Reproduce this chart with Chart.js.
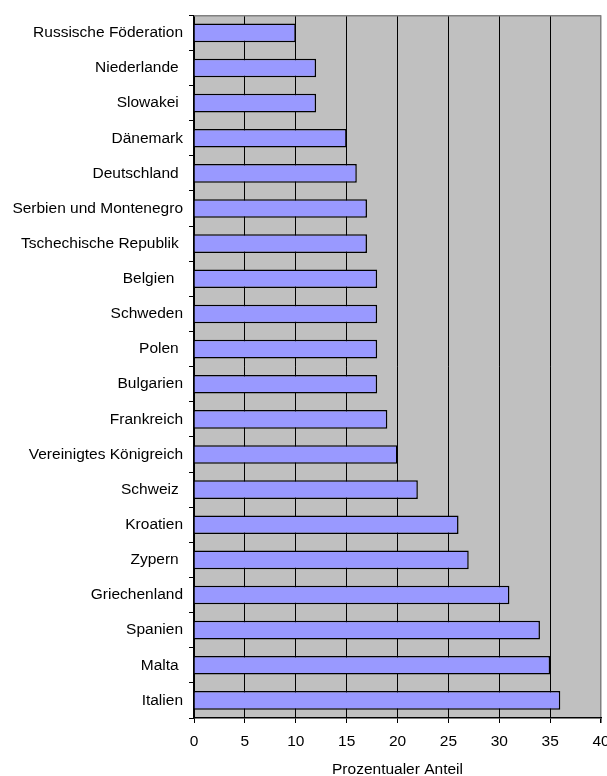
<!DOCTYPE html>
<html>
<head>
<meta charset="utf-8">
<script src="https://cdn.jsdelivr.net/npm/chart.js@4/dist/chart.umd.min.js"></script>
<style>
  html, body { margin: 0; padding: 0; background: #fff; }
  #wrap { width: 607px; height: 776px; }
</style>
</head>
<body>
<div id="wrap"><canvas id="chart"></canvas></div>
<script>
// labels keep the trailing spaces seen in the original
const countries = [
    "Russische Föderation", "Niederlande ", "Slowakei ", "Dänemark", "Deutschland ",
    "Serbien und Montenegro", "Tschechische Republik ", "Belgien  ", "Schweden", "Polen ",
    "Bulgarien", "Frankreich", "Vereinigtes Königreich", "Schweiz ", "Kroatien",
    "Zypern ", "Griechenland", "Spanien", "Malta ", "Italien"
];
const shares = [10, 12, 12, 15, 16, 17, 17, 18, 18, 18, 18, 19, 20, 22, 26, 27, 31, 34, 35, 36];
const xTicks = [0, 5, 10, 15, 20, 25, 30, 35, 40];
const xTitle = "Prozentualer Anteil";

const FONT = { family: "'Liberation Sans', Arial, sans-serif", size: 15.5 };

// gray plot area with gray top frame
const plotBackground = {
    id: "plotBackground",
    beforeDraw(chart) {
        const a = chart.chartArea, c = chart.ctx;
        c.save();
        c.fillStyle = "#C0C0C0";
        c.fillRect(a.left, a.top, a.right - a.left, a.bottom - a.top);
        c.restore();
    },
    afterDraw(chart) {
        const a = chart.chartArea, c = chart.ctx;
        c.save();
        c.strokeStyle = "#808080";
        c.lineWidth = 1.5;
        c.beginPath();
        c.moveTo(a.left, a.top + 0.5);
        c.lineTo(a.right, a.top + 0.5);
        c.stroke();
        c.restore();
    }
};

new Chart(document.getElementById("chart"), {
    type: "bar",
    data: {
        labels: countries,
        datasets: [{
            data: shares,
            backgroundColor: "#9999FF",
            borderColor: "#000000",
            borderWidth: 1.5,
            barPercentage: 0.53,
            categoryPercentage: 1
        }]
    },
    options: {
        indexAxis: "y",
        responsive: true,
        maintainAspectRatio: false,
        animation: false,
        layout: { padding: { top: 14, right: 6, left: 0, bottom: 0 } },
        plugins: {
            legend: { display: false },
            tooltip: { enabled: false }
        },
        scales: {
            x: {
                min: 0,
                max: 40,
                afterBuildTicks: s => { s.ticks = xTicks.map(v => ({ value: v })); },
                afterFit: s => { s.paddingLeft = 0; s.paddingRight = 0; s.height = 58; },
                grid: {
                    color: c => (c.tick && c.tick.value === 40) ? "#808080" : "#000000",
                    lineWidth: c => (c.tick && c.tick.value === 40) ? 1.5 : 1,
                    tickColor: "#000000",
                    tickLength: 5,
                    drawTicks: true
                },
                border: { color: "#000000", width: 1.5 },
                ticks: { color: "#000", font: FONT, padding: 9.5, maxRotation: 0 },
                title: {
                    display: true,
                    text: xTitle,
                    color: "#000",
                    font: FONT,
                    padding: { top: 6, bottom: -3 }
                }
            },
            y: {
                afterFit: s => { s.width = 194; },
                grid: {
                    drawOnChartArea: false,
                    drawTicks: true,
                    tickLength: 5,
                    tickColor: "#000000",
                    offset: true
                },
                border: { color: "#000000", width: 1.5 },
                ticks: { color: "#000", font: FONT, padding: 6, autoSkip: false }
            }
        }
    },
    plugins: [plotBackground]
});
</script>
</body>
</html>
